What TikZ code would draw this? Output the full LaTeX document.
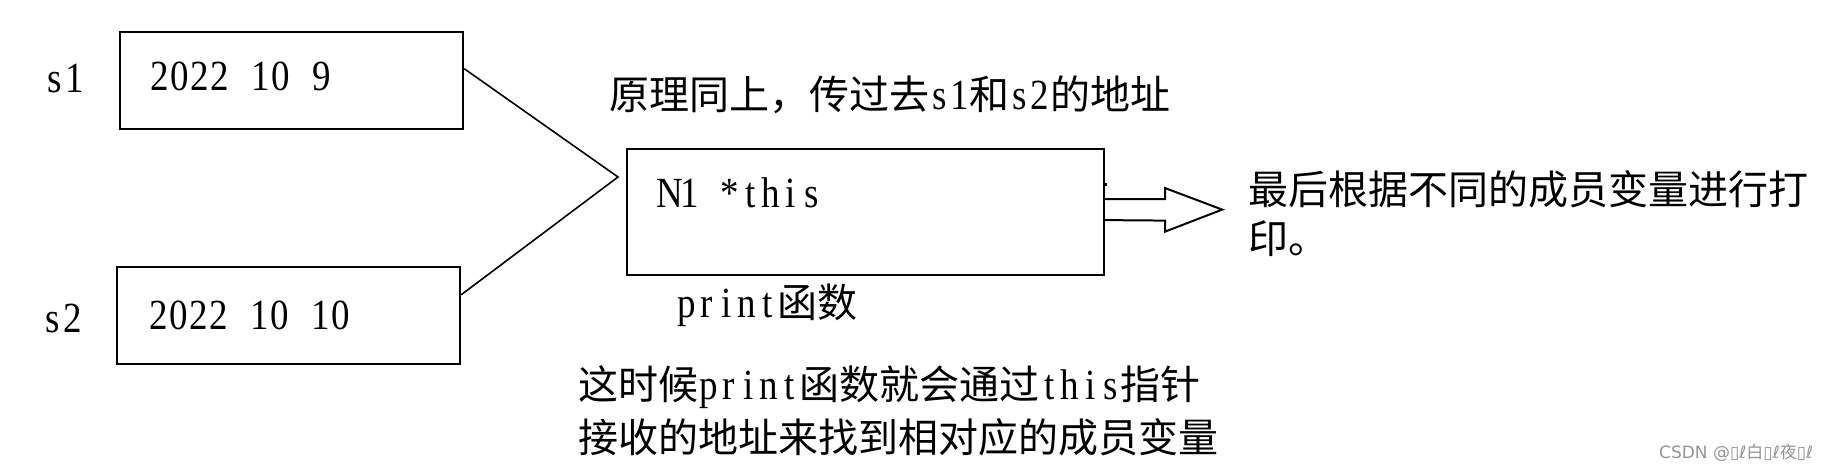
\documentclass[tikz,border=0pt]{standalone}
\usepackage{fontspec}
\setmainfont{Liberation Serif}
\newfontfamily\cjk{Noto Sans CJK SC}
\newfontfamily\lat[FakeStretch=0.86]{Liberation Serif}
\newfontfamily\wmfont{DejaVu Sans}
\usetikzlibrary{calc}
\makeatletter
\newcommand{\lt}[1]{{\fontsize{43}{48}\lat\@tfor\hwchar:=#1\do{\makebox[20.3pt]{\hwchar}}}}
\makeatother
\begin{document}
\begin{tikzpicture}[x=1pt,y=-1pt,
  databox/.style={draw=black,line width=2.2pt,rectangle,inner sep=0pt,anchor=north west},
  txt/.style={anchor=base west,inner sep=0pt,font=\fontsize{40}{48}\cjk},
  conn/.style={draw=black,line width=1.6pt},
  blockarrow/.style={draw=black,line width=2pt,fill=white,line join=miter}]
\useasboundingbox (0,0) rectangle (1823,470);
\fill[white] (0,0) rectangle (1823,470);
% boxes
\node[databox,minimum width=343pt,minimum height=97pt] (s1box) at (119,31) {};
\node[databox,minimum width=343pt,minimum height=97pt] (s2box) at (116,266) {};
\node[databox,minimum width=477pt,minimum height=126pt] (mainbox) at (626,148) {};
% labels
\node[txt] (s1) at (44,93) {\lt{s1}};
\node[txt] (s2) at (42,333) {\lt{s2}};
\node[txt] (t1) at (149,91) {\lt{2022~10~9}};
\node[txt] (t2) at (148,329) {\lt{2022~10~10}};
\node[txt] (note1) at (609,110) {原理同上，传过去\lt{s1}和\lt{s2}的地址};
\node[txt] (thisptr) at (659,208) {\lt{N1~*this}};
\node[txt] (printf) at (676,317) {\lt{print}函数};
\node[txt] (out1) at (1248,205) {最后根据不同的成员变量进行打};
\node[txt] (out2) at (1248,254) {印。};
\node[txt] (note2a) at (578,399) {这时候\lt{print}函数就会通过\lt{this}指针};
\node[txt] (note2b) at (578,452) {接收的地址来找到相对应的成员变量};
% connectors
\coordinate (apex) at (618,177);
\draw[conn] ($(s1box.north east)!0.38!(s1box.south east)$) -- (apex)
  -- ($(s2box.north east)!0.29!(s2box.south east)$);
% block arrow
\coordinate (arrbase) at ($(mainbox.east)+(0,-2.5)$);
\draw[blockarrow] ($(arrbase)+(0,-10.5)$) -- ++(60,0) -- ++(0,-11) -- ($(arrbase)+(117,0)$)
  -- ($(arrbase)+(60,22)$) -- ++(0,-11) -- ($(arrbase)+(0,10.5)$);
\fill[black] (1105,183) rectangle (1107,186);
% watermark
\node[anchor=base west,inner sep=0pt,text=black!42,font=\fontsize{17}{20}\wmfont] (wm) at (1659,458)
  {CSDN @▯ℓ{\cjk 白}▯ℓ{\cjk 夜}▯ℓ};
\end{tikzpicture}
\end{document}
